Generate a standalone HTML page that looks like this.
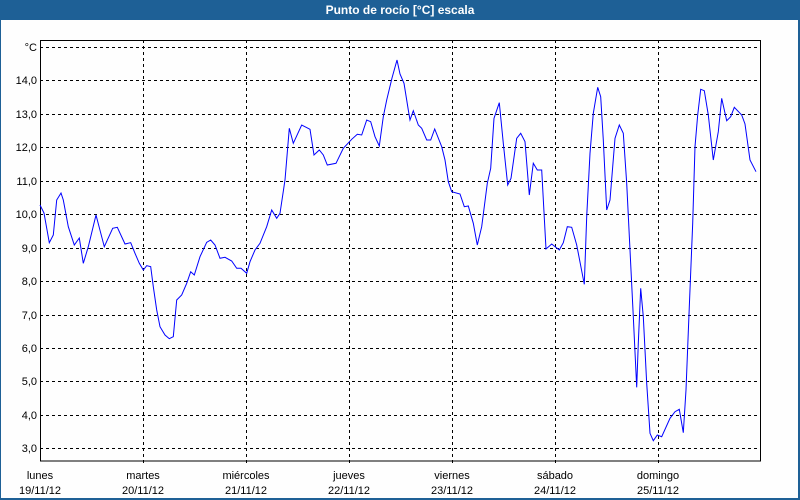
<!DOCTYPE html>
<html><head><meta charset="utf-8"><style>
html,body{margin:0;padding:0;background:#fff}
svg{display:block}
text{font-family:"Liberation Sans",Tahoma,sans-serif;font-size:11px;fill:#000}
</style></head><body>
<svg width="800" height="500" viewBox="0 0 800 500">
<rect x="0" y="0" width="800" height="500" fill="#1e6096"/>
<rect x="1" y="20" width="797" height="478" fill="#fefefe"/>
<text x="400" y="14" text-anchor="middle" style="fill:#fff;font-weight:bold;font-size:12px">Punto de rocío [°C] escala</text>
<g stroke="#000" stroke-width="1" stroke-dasharray="3,3" fill="none">
<line x1="40" y1="47.5" x2="760" y2="47.5"/>
<line x1="40" y1="80.5" x2="760" y2="80.5"/>
<line x1="40" y1="114.5" x2="760" y2="114.5"/>
<line x1="40" y1="147.5" x2="760" y2="147.5"/>
<line x1="40" y1="181.5" x2="760" y2="181.5"/>
<line x1="40" y1="214.5" x2="760" y2="214.5"/>
<line x1="40" y1="248.5" x2="760" y2="248.5"/>
<line x1="40" y1="281.5" x2="760" y2="281.5"/>
<line x1="40" y1="315.5" x2="760" y2="315.5"/>
<line x1="40" y1="348.5" x2="760" y2="348.5"/>
<line x1="40" y1="381.5" x2="760" y2="381.5"/>
<line x1="40" y1="415.5" x2="760" y2="415.5"/>
<line x1="40" y1="448.5" x2="760" y2="448.5"/>
<line x1="143.5" y1="40" x2="143.5" y2="466"/>
<line x1="246.5" y1="40" x2="246.5" y2="466"/>
<line x1="349.5" y1="40" x2="349.5" y2="466"/>
<line x1="452.5" y1="40" x2="452.5" y2="466"/>
<line x1="555.5" y1="40" x2="555.5" y2="466"/>
<line x1="658.5" y1="40" x2="658.5" y2="466"/>
</g>
<rect x="40.5" y="40.5" width="720" height="420.5" fill="none" stroke="#000" stroke-width="1"/>
<g text-anchor="end">
<text x="37" y="51">°C</text>
<text x="37" y="84">14,0</text>
<text x="37" y="118">13,0</text>
<text x="37" y="151">12,0</text>
<text x="37" y="185">11,0</text>
<text x="37" y="218">10,0</text>
<text x="37" y="252">9,0</text>
<text x="37" y="285">8,0</text>
<text x="37" y="319">7,0</text>
<text x="37" y="352">6,0</text>
<text x="37" y="385">5,0</text>
<text x="37" y="419">4,0</text>
<text x="37" y="452">3,0</text>
</g>
<g text-anchor="middle">
<text x="40" y="479">lunes</text><text x="40" y="494">19/11/12</text>
<text x="143" y="479">martes</text><text x="143" y="494">20/11/12</text>
<text x="246" y="479">miércoles</text><text x="246" y="494">21/11/12</text>
<text x="349" y="479">jueves</text><text x="349" y="494">22/11/12</text>
<text x="452" y="479">viernes</text><text x="452" y="494">23/11/12</text>
<text x="555" y="479">sábado</text><text x="555" y="494">24/11/12</text>
<text x="658" y="479">domingo</text><text x="658" y="494">25/11/12</text>
</g>
<polyline fill="none" stroke="#0000ff" stroke-width="1" points="40,205 44,213 49.3,242.7 53.3,235 56.7,200 61,193 63.3,200 68.3,226.7 74.3,245 79.3,238 83.3,263.3 88.3,246.7 96,215 104.3,246.7 112.7,228.3 117.3,227.3 125,244 130.7,242.7 135,253.3 139.3,263.3 143.3,270 146.7,265.7 150.7,266.7 153.3,286.7 156.7,310 160,326.7 165,335 169.3,338.7 173.3,336.7 176.7,300 181.7,295 186.7,283.3 190.7,271.7 194.3,275 200,256.7 206.7,242.3 210.7,240 215,245 220,258.3 225,257.3 231.7,261 236.7,268.3 241,268.3 246.7,273.3 250,261.7 255,250 260,243.3 266.7,226.7 271.7,210 276.7,218.3 280,213.3 285,180 289.3,128.3 293.3,143.3 301.7,125 310,129.3 314,155 319.3,150 323.3,155 327.3,165 336,163.3 343.3,148.3 351.7,139.3 357.3,134.3 361.7,135 366.7,120 370.7,121.7 375,136.7 379.3,146 383.3,116.7 386.7,100 392,78 397,60 400,74 404,83.3 408.3,110 410,120 413.3,110.7 418.3,125 421.7,128.3 426.7,140 430.7,140 434.7,129 441.7,146.7 445,160 448.3,181.7 451.7,191.7 460,194 464.3,206.7 468.3,206 473.3,223.3 477.3,245 481.7,226.7 487.3,183.3 490.7,168.3 494,118.3 499.3,102.7 503.3,143.3 507.7,185 511,178.3 516.7,138.3 520.7,133.3 525,141.7 529.3,195 533.3,163.3 537.3,170 541.7,170 546,249 551.7,244 559.3,250 563.3,242.7 567.3,226.7 571.7,227.3 576.7,245 584.3,284.3 586.7,216.7 590,153.3 593.3,113.3 597.7,87.3 600.7,96.7 603.3,140 606.7,210 610,200 615,138.3 619.3,125 623.3,133.3 626.7,183.3 630,250 633.3,316.7 636.7,387.3 638.3,343.3 640.7,288.3 643.3,316.7 646.7,383.3 650,433.3 653.3,440.7 657.3,435 661.7,436.7 670,418.3 675,411.7 679.3,409.3 683.3,432.7 686,390 689.3,306.7 692.7,223.3 695,146.7 697.7,115 700.7,89.3 704.3,90.7 708.3,115 713.3,160 718.3,131.7 721.7,98.3 726.7,120.7 730.7,116.7 734.3,107.3 741.7,115 745,124 750,160 756,171.7"/>
</svg>
</body></html>
